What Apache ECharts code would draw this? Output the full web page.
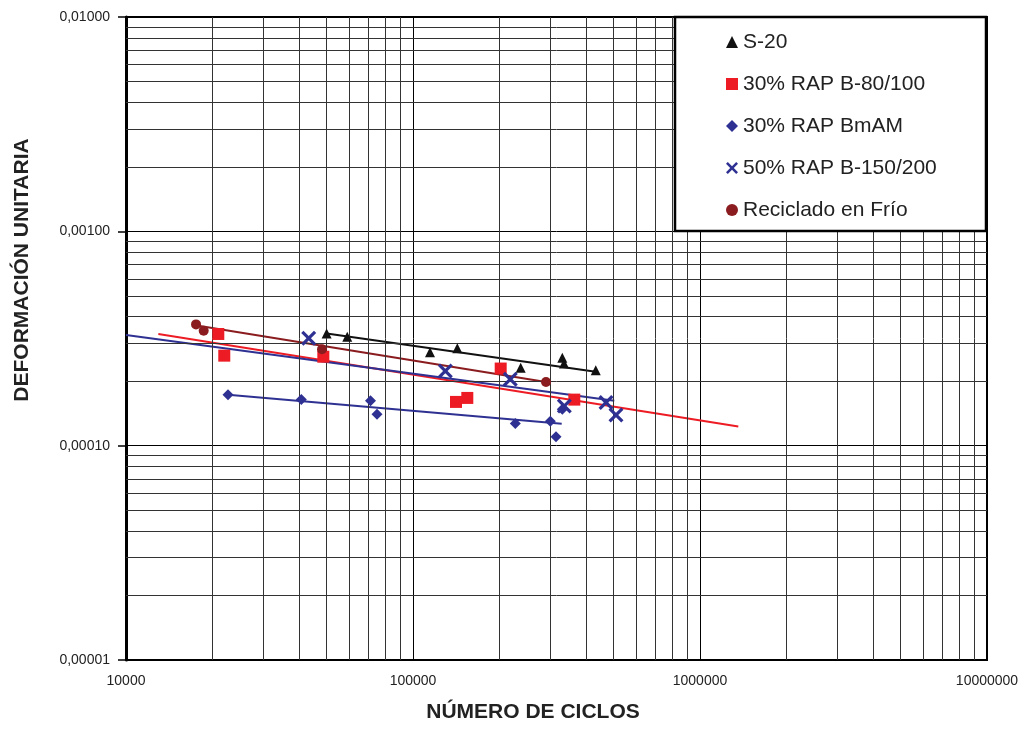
<!DOCTYPE html>
<html>
<head>
<meta charset="utf-8">
<script src="https://cdn.jsdelivr.net/npm/echarts@6/dist/echarts.min.js"></script>
<style>
html,body{margin:0;padding:0;background:#fff;}
#chart{width:1022px;height:735px;}
</style>
</head>
<body>
<div id="chart"></div>
<script>
// ---- data (N cycles, unit strain) ----
const seriesNames = ['S-20', '30% RAP B-80/100', '30% RAP BmAM', '50% RAP B-150/200', 'Reciclado en Frío'];
const s20 = [[50000,0.000334],[59000,0.000322],[114600,0.000273],[142700,0.000285],[237300,0.000231],[331300,0.000257],[335800,0.000242],[433200,0.000225]];
const rap80 = [[20970,0.000332],[22000,0.000263],[48700,0.000260],[141200,0.000160],[154600,0.000167],[202100,0.000229],[364800,0.000164]];
const bmam = [[22670,0.000173],[40810,0.000164],[71120,0.000162],[74930,0.000140],[227200,0.000127],[300900,0.000130],[315000,0.000110],[331300,0.000148]];
const rap50 = [[43310,0.000317],[129600,0.000223],[218300,0.000204],[336700,0.000153],[470500,0.000159],[509700,0.000139]];
const frio = [[17540,0.000368],[18650,0.000344],[48190,0.000282],[290700,0.000198]];
// trend line endpoints
const trendS20 = [[50040,0.000334],[433200,0.000221]];
const trendRap80 = [[12960,0.000332],[1359800,0.000123]];
const trendBmam = [[22670,0.000173],[329700,0.0001265]];
const trendRap50 = [[10000,0.000328],[502800,0.000162]];
const trendFrio = [[17640,0.000364],[290700,0.000198]];
// axis ranges
const xRange = [10000, 10000000];
const yRange = [0.00001, 0.01];

const FONT = '"Liberation Sans", Arial, Helvetica, sans-serif';
const cBlack = '#111111', cRed = '#ed1c24', cNavy = '#2e3192', cDark = '#8a1c1f';
const xSymbol = 'path://M0,1.5L1.5,0L5,3.5L8.5,0L10,1.5L6.5,5L10,8.5L8.5,10L5,6.5L1.5,10L0,8.5L3.5,5Z';

// minor log grid lines (2..9 within each decade)
const minorLines = [];
for (let d = 4; d < 7; d++) for (let k = 2; k <= 9; k++) {
  const v = k * Math.pow(10, d);
  minorLines.push([{coord: [v, yRange[0]]}, {coord: [v, yRange[1]]}]);
}
for (let d = -5; d < -2; d++) for (let k = 2; k <= 9; k++) {
  const v = +(k * Math.pow(10, d)).toPrecision(3);
  minorLines.push([{coord: [xRange[0], v]}, {coord: [xRange[1], v]}]);
}

const chart = echarts.init(document.getElementById('chart'), null, {renderer: 'canvas'});

function trend(name, data, color) {
  return {name: name, type: 'line', data: data, symbol: 'none', silent: true, z: 4,
    lineStyle: {color: color, width: 2}, animation: false};
}
function pts(name, data, symbol, size, color) {
  return {name: name, type: 'scatter', data: data, symbol: symbol, symbolSize: size, z: 6,
    itemStyle: {color: color, opacity: 1}, animation: false};
}

chart.setOption({
  animation: false,
  backgroundColor: '#fff',
  textStyle: {fontFamily: FONT},
  grid: {left: 126, right: 35, top: 17, bottom: 75, show: true, borderColor: '#000', borderWidth: 2, backgroundColor: 'transparent'},
  xAxis: {
    type: 'log', logBase: 10, min: xRange[0], max: xRange[1],
    axisLine: {show: true, lineStyle: {color: '#000', width: 2}},
    axisTick: {show: false},
    axisLabel: {fontSize: 14, color: '#222', margin: 14, fontFamily: FONT,
      formatter: v => String(Math.round(v))},
    splitLine: {show: true, lineStyle: {color: '#000', width: 1}}
  },
  yAxis: {
    type: 'log', logBase: 10, min: yRange[0], max: yRange[1],
    axisLine: {show: true, lineStyle: {color: '#000', width: 3}},
    axisTick: {show: true, inside: false, length: 8, lineStyle: {color: '#000', width: 1.5}},
    axisLabel: {fontSize: 14, color: '#222', margin: 16, fontFamily: FONT,
      formatter: v => v.toFixed(5).replace('.', ',')},
    splitLine: {show: true, lineStyle: {color: '#000', width: 1}}
  },
  legend: {
    data: seriesNames, orient: 'vertical', left: 721, top: 26, z: 110,
    itemWidth: 12, itemHeight: 12, itemGap: 20,
    textStyle: {fontSize: 21, color: '#222', fontFamily: FONT, lineHeight: 22},
    selectedMode: false
  },
  graphic: [
    {type: 'rect', z: 100, shape: {x: 675, y: 17, width: 311, height: 214},
      style: {fill: '#fff', stroke: '#000', lineWidth: 2.5}},
    {type: 'text', z: 100, x: 533, y: 712,
      style: {text: 'NÚMERO DE CICLOS', font: 'bold 21px ' + FONT, fill: '#222', textAlign: 'center', textVerticalAlign: 'middle'}},
    {type: 'text', z: 100, x: 22, y: 270, rotation: Math.PI / 2,
      style: {text: 'DEFORMACIÓN UNITARIA', font: 'bold 21px ' + FONT, fill: '#222', textAlign: 'center', textVerticalAlign: 'middle'}}
  ],
  series: [
    {name: 'grid', type: 'line', data: [], z: 1, silent: true,
      markLine: {silent: true, symbol: ['none', 'none'], label: {show: false}, animation: false,
        lineStyle: {color: '#333', width: 1, type: 'solid'},
        data: minorLines}},
    trend('tS20', trendS20, cBlack),
    trend('tFrio', trendFrio, cDark),
    trend('tRap80', trendRap80, cRed),
    trend('tRap50', trendRap50, cNavy),
    trend('tBmam', trendBmam, cNavy),
    pts(seriesNames[0], s20, 'triangle', [10, 10], cBlack),
    pts(seriesNames[1], rap80, 'rect', [12, 12], cRed),
    pts(seriesNames[2], bmam, 'diamond', [11, 11], cNavy),
    pts(seriesNames[3], rap50, xSymbol, [15, 15], cNavy),
    pts(seriesNames[4], frio, 'circle', [10, 10], cDark)
  ]
});
</script>
</body>
</html>
